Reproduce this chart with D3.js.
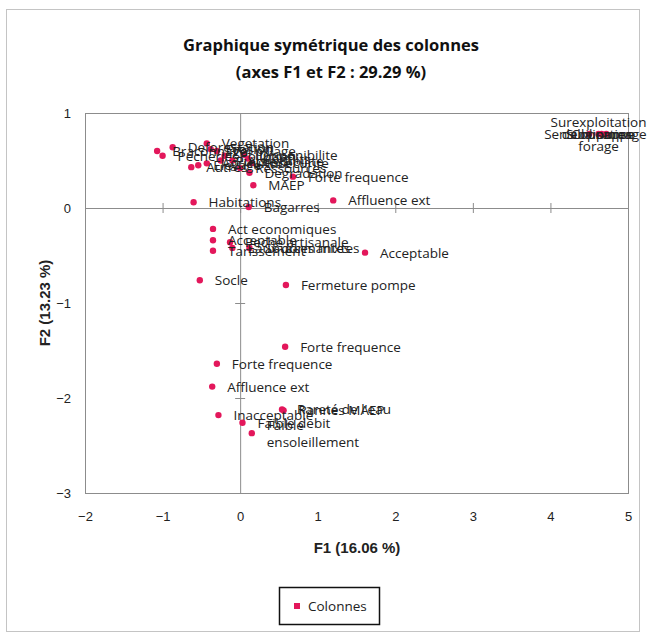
<!DOCTYPE html>
<html>
<head>
<meta charset="utf-8">
<script src="https://cdn.jsdelivr.net/npm/d3@7"></script>
<style>
  body { margin: 0; background: #fff; }
  svg { display: block; }
</style>
</head>
<body>
<div id="chart"></div>
<script>
// Symmetric plot of the columns (F1 x F2)

var width = 647,
    height = 635;

// Point names (a label may hold several lines)
var pointLabels = [
  "Braconnage", "Pecheries", "Deforestation", "Vegetation", "Vol pillage",
  "Autres", "Elevage", "Agriculture", "Erosion", "Pollution",
  "Accessibilite", "Disponibilite", "Insecurite", "Puits", "Ressources",
  "Conflits", "Forte frequence", "Degradation",
  "MAEP", "Habitations", "Bagarres", "Affluence ext",
  "Act economiques", "Acceptable", "Peche artisanale", "Sources mixtes",
  "Tarissement", "Eaux dormantes", "Acceptable", "Socle", "Fermeture pompe",
  "Forte frequence", "Forte frequence", "Affluence ext", "Inacceptable",
  "Rareté de l'eau", "Pannes MAEP", "Faible debit", "Faible\nensoleillement",
  "Surexploitation\nde la nappe\nforage", "Sensibilisation", "Surpompage", "Coupures"
];

// F1 coordinates
var f1Values = [
  -1.07, -1.00, -0.87, -0.43, -0.30,
  -0.63, -0.54, -0.43, -0.38, -0.20,
  -0.10, 0.05, 0.15, -0.25, 0.00,
  0.10, 0.68, 0.12,
  0.17, -0.60, 0.11, 1.20,
  -0.35, -0.35, -0.13, 0.12,
  -0.35, -0.10, 1.61, -0.52, 0.59,
  0.58, -0.30, -0.36, -0.28,
  0.54, 0.56, 0.03, 0.15,
  4.62, 4.50, 4.72, 4.66
];

// F2 coordinates
var f2Values = [
  0.60, 0.55, 0.64, 0.68, 0.60,
  0.43, 0.45, 0.47, 0.62, 0.55,
  0.50, 0.56, 0.47, 0.50, 0.42,
  0.52, 0.33, 0.37,
  0.24, 0.06, 0.01, 0.08,
  -0.22, -0.34, -0.36, -0.42,
  -0.45, -0.42, -0.47, -0.76, -0.81,
  -1.46, -1.64, -1.88, -2.18,
  -2.12, -2.13, -2.26, -2.37,
  0.78, 0.78, 0.78, 0.78
];

var xTicks = [-2, -1, 0, 1, 2, 3, 4, 5],
    yTicks = [1, 0, -1, -2, -3];

var points = pointLabels.map(function(name, i) {
  return {name: name, f1: f1Values[i], f2: f2Values[i]};
});

var plot = {left: 85, right: 628, top: 113, bottom: 493};

var x = d3.scaleLinear().domain([-2, 5]).range([plot.left, plot.right]);
var y = d3.scaleLinear().domain([-3, 1]).range([plot.bottom, plot.top]);

var svg = d3.select("#chart").append("svg")
    .attr("width", width)
    .attr("height", height);

// chart frame
svg.append("rect")
    .attr("x", 6.5).attr("y", 9.5)
    .attr("width", 633).attr("height", 622)
    .attr("fill", "#fff")
    .attr("stroke", "#c4c4c4");

// title
var title = svg.append("text")
    .attr("text-anchor", "middle")
    .style("font-family", "'Open Sans', sans-serif")
    .style("font-weight", "bold")
    .style("font-size", "16.5px")
    .attr("fill", "#111");
title.append("tspan").attr("x", 331).attr("y", 51).text("Graphique symétrique des colonnes");
title.append("tspan").attr("x", 331).attr("y", 78).text("(axes F1 et F2 : 29.29 %)");

// plot frame
svg.append("rect")
    .attr("x", plot.left + 0.5).attr("y", plot.top + 0.5)
    .attr("width", plot.right - plot.left).attr("height", plot.bottom - plot.top)
    .attr("fill", "none")
    .attr("stroke", "#8c8c8c");

// axes crossing at zero
var xZero = svg.append("g")
    .attr("transform", "translate(0," + (y(0) - 5) + ")")
    .call(d3.axisBottom(x).tickValues(xTicks).tickSize(10).tickFormat(""));
xZero.select(".domain").remove();
xZero.selectAll(".tick line").attr("stroke", "#8c8c8c");

var yZero = svg.append("g")
    .attr("transform", "translate(" + (x(0) + 5) + ",0)")
    .call(d3.axisLeft(y).tickValues(yTicks).tickSize(10).tickFormat(""));
yZero.select(".domain").remove();
yZero.selectAll(".tick line").attr("stroke", "#8c8c8c");

svg.append("line")
    .attr("x1", plot.left).attr("x2", plot.right)
    .attr("y1", y(0) + 0.5).attr("y2", y(0) + 0.5)
    .attr("stroke", "#8c8c8c");
svg.append("line")
    .attr("x1", x(0) + 0.5).attr("x2", x(0) + 0.5)
    .attr("y1", plot.top).attr("y2", plot.bottom)
    .attr("stroke", "#8c8c8c");

// tick labels on the frame edges
var xAxis = svg.append("g")
    .attr("transform", "translate(0," + (plot.bottom + 16) + ")")
    .call(d3.axisBottom(x).tickValues(xTicks).tickSize(0).tickFormat(d3.format("d")));
xAxis.select(".domain").remove();
xAxis.selectAll("text")
    .style("font-family", "'Liberation Sans Narrow', 'Liberation Sans', sans-serif")
    .style("font-size", "13px")
    .attr("fill", "#222");

var yAxis = svg.append("g")
    .attr("transform", "translate(" + (plot.left - 11) + ",0)")
    .call(d3.axisLeft(y).tickValues(yTicks).tickSize(0).tickFormat(d3.format("d")));
yAxis.select(".domain").remove();
yAxis.selectAll("text")
    .style("font-family", "'Liberation Sans Narrow', 'Liberation Sans', sans-serif")
    .style("font-size", "13px")
    .attr("fill", "#222");

// axis titles
svg.append("text")
    .attr("x", 357).attr("y", 553)
    .attr("text-anchor", "middle")
    .style("font-family", "'Liberation Sans', Arial, sans-serif")
    .style("font-weight", "bold")
    .style("font-size", "15px")
    .attr("fill", "#222")
    .text("F1 (16.06 %)");

svg.append("text")
    .attr("transform", "translate(50," + ((plot.top + plot.bottom) / 2) + ") rotate(-90)")
    .attr("text-anchor", "middle")
    .style("font-family", "'Liberation Sans', Arial, sans-serif")
    .style("font-weight", "bold")
    .style("font-size", "15px")
    .attr("fill", "#222")
    .text("F2 (13.23 %)");

// points
svg.append("g").selectAll("circle")
    .data(points)
  .enter().append("circle")
    .attr("cx", function(d) { return x(d.f1); })
    .attr("cy", function(d) { return y(d.f2); })
    .attr("r", 3.2)
    .attr("fill", "#e3175b");

// labels: right of the point, centred for the far right group
var labels = svg.append("g")
    .style("font-family", "'Open Sans', sans-serif")
    .style("font-size", "13.5px")
    .attr("fill", "#222")
  .selectAll("text")
    .data(points)
  .enter().append("text")
    .attr("text-anchor", function(d) { return d.f1 > 4 ? "middle" : "start"; });

labels.each(function(d) {
  var lines = d.name.split("\n"),
      cx = d.f1 > 4 ? x(d.f1) : x(d.f1) + 15,
      lineH = lines.length > 2 ? 12 : 17,
      top = y(d.f2) - (lines.length - 1) * lineH / 2 + 5;
  var t = d3.select(this);
  lines.forEach(function(line, i) {
    t.append("tspan").attr("x", cx).attr("y", top + i * lineH).text(line);
  });
});

// legend
var legend = svg.append("g");
legend.append("rect")
    .attr("x", 279.5).attr("y", 587.5)
    .attr("width", 100).attr("height", 37)
    .attr("fill", "#fff")
    .attr("stroke", "#111")
    .attr("stroke-width", 1.5);
legend.append("rect")
    .attr("x", 294).attr("y", 603)
    .attr("width", 6).attr("height", 6)
    .attr("fill", "#e3175b");
legend.append("text")
    .attr("x", 308).attr("y", 611)
    .style("font-family", "'Open Sans', sans-serif")
    .style("font-size", "13.5px")
    .attr("fill", "#222")
    .text("Colonnes");
</script>
</body>
</html>
